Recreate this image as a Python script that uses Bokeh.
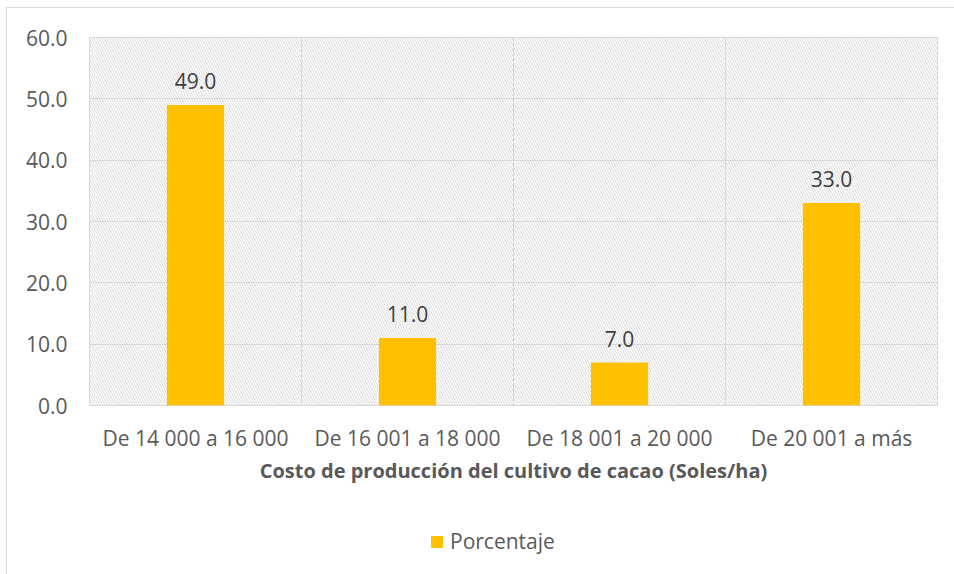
from bokeh.plotting import figure
from bokeh.layouts import column
from bokeh.models import ColumnDataSource, BoxAnnotation, Span, Legend, LegendItem, LabelSet, NumeralTickFormatter, FixedTicker
from bokeh.core.properties import value
from bokeh.embed import file_html
from bokeh.resources import INLINE

categories = ["De 14 000 a 16 000", "De 16 001 a 18 000", "De 18 001 a 20 000", "De 20 001 a más"]
porcentaje = [49.0, 11.0, 7.0, 33.0]
labels = ["49.0", "11.0", "7.0", "33.0"]
y_ticks = [0, 10, 20, 30, 40, 50, 60]
series_name = "Porcentaje"

FONT = "Open Sans"
BAR = "#ffc000"
src = ColumnDataSource(dict(x=categories, y=porcentaje, lab=labels))

p = figure(width=948, height=485, x_range=categories, y_range=(0, 60),
           output_backend="svg", toolbar_location=None,
           min_border_left=82, min_border_right=18, min_border_top=29, min_border_bottom=88)
p.x_range.range_padding = 0
p.outline_line_color = "#d9d9d9"
p.outline_line_width = 1

bg = BoxAnnotation(fill_alpha=0, line_alpha=0, hatch_pattern="\\", hatch_color="#d9d9d9",
                   hatch_scale=5, hatch_weight=1, level="underlay")
p.add_layout(bg)

p.ygrid.grid_line_color = "#d9d9d9"
p.ygrid.ticker = FixedTicker(ticks=y_ticks)
p.xgrid.grid_line_color = None
for i in range(1, len(categories)):
    p.add_layout(Span(location=i, dimension="height", line_color="#d9d9d9", line_width=1, level="underlay"))

r = p.vbar(x="x", top="y", width=0.27, source=src, fill_color=BAR, line_color=None)

p.add_layout(LabelSet(x="x", y="y", text="lab", source=src, text_align="center", text_baseline="middle",
                      y_offset=24, text_font=value(FONT), text_font_size="21px", text_color="#404040"))

for ax in (p.xaxis, p.yaxis):
    ax.axis_line_color = None
    ax.major_tick_line_color = None
    ax.minor_tick_line_color = None
    ax.major_tick_out = 0
    ax.major_tick_in = 0
    ax.minor_tick_out = 0
    ax.major_label_text_font = FONT
    ax.major_label_text_font_size = "21px"
    ax.major_label_text_color = "#595959"

p.yaxis.ticker = FixedTicker(ticks=y_ticks)
p.yaxis.formatter = NumeralTickFormatter(format="0.0")
p.yaxis.major_label_standoff = 22

p.xaxis.major_label_standoff = 18
p.xaxis.axis_label = "Costo de producción del cultivo de cacao (Soles/ha)"
p.xaxis.axis_label_text_font = FONT
p.xaxis.axis_label_text_font_size = "20px"
p.xaxis.axis_label_text_font_style = "bold"
p.xaxis.axis_label_text_color = "#595959"
p.xaxis.axis_label_standoff = 2

# legend strip (frame aligned with the main plot by the column layout)
p2 = figure(width=948, height=81, x_range=(0, 1), y_range=(0, 1), output_backend="svg",
            toolbar_location=None, min_border=0)
p2.axis.visible = False
p2.grid.visible = False
p2.outline_line_color = None
r2 = p2.vbar(x=[0.5], top=[0], bottom=[0], width=0.0, fill_color=BAR, line_color=None)
legend = Legend(items=[LegendItem(label=series_name, renderers=[r2])], orientation="horizontal",
                location=(340, 19), label_text_font=FONT, label_text_font_size="21px",
                label_text_color="#595959", border_line_color=None, background_fill_alpha=0,
                glyph_width=15, glyph_height=15, label_standoff=6, margin=0, padding=0)
p2.add_layout(legend)

layout = column(p, p2, spacing=0)
layout.styles = {"margin-left": "6px", "margin-top": "7px",
                 "border-left": "1px solid #d9d9d9", "border-top": "1px solid #d9d9d9"}

open("out.html", "w").write(file_html(layout, INLINE))
